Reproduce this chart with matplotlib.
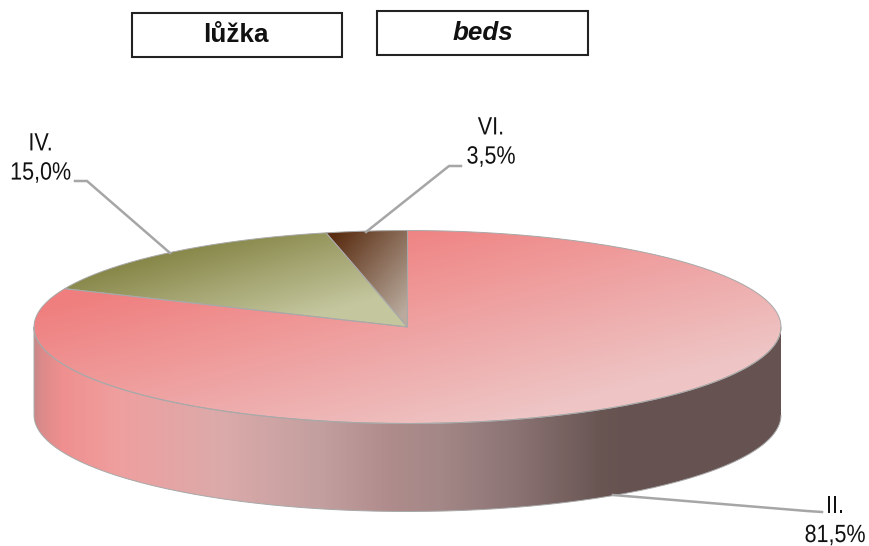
"""
3D pie chart, beds by category
"""

import numpy as np
import matplotlib.pyplot as plt
import matplotlib.patheffects as pe
from matplotlib.patches import PathPatch, Rectangle
from matplotlib.path import Path
from matplotlib.colors import to_rgb
from matplotlib.transforms import Affine2D

#> Data
categories = ['II.', 'IV.', 'VI.']
shares = [81.5, 15.0, 3.5]
share_labels = ['81,5%', '15,0%', '3,5%']
title_cz = 'lůžka'
title_en = 'beds'

#> Geometry of the pie, in pixels
cx, cy, rx, ry, depth = 407.5, 327., 373.5, 96.5, 88.

#> Gradients: colour stops for each slice
top_stops = [
    ([.2, .8], ['#f07e7e', '#eec4c4']),
    ([.22, .8], ['#838343', '#c4c69e']),
    ([.08, .9], ['#5a2d12', '#b9aa9d']),
]
side_x = [34, 42, 62, 120, 220, 320, 387, 440, 510, 600, 625, 781]
side_c = ['#c98888', '#dc8a8a', '#ef8f8f', '#ef9f9f', '#dcaaaa', '#c39f9f', '#b08c8c',
          '#a48787', '#8d7575', '#695653', '#665351', '#665351']


class Squeeze(pe.AbstractPathEffect):
    #> no narrow font installed: squeeze each text line about its own centre
    def __init__(self, sx):
        super().__init__()
        self.sx = sx

    def draw_path(self, renderer, gc, tpath, affine, rgbFace=None):
        box = tpath.get_extents(affine)
        mid = (box.x0 + box.x1) / 2.
        squeezed = affine + Affine2D().translate(-mid, 0).scale(self.sx, 1).translate(mid, 0)
        renderer.draw_path(gc, tpath, squeezed, rgbFace)


def ellipse_xy(theta):
    #> theta measured clockwise from 12 o'clock, degrees
    t = np.radians(theta)
    return cx + rx * np.sin(t), cy - ry * np.cos(t)


def clipped_gradient(ax, path, rgb, edge='#a8a8a8'):
    patch = PathPatch(path, fc='none', ec='none')
    ax.add_patch(patch)
    im = ax.imshow(rgb, extent=ext, origin='upper', interpolation='bilinear', zorder=2)
    im.set_clip_path(patch)
    ax.add_patch(PathPatch(path, fc='none', ec=edge, lw=.7, zorder=3))


fig = plt.figure(figsize=(8.69, 5.46), dpi=100)
ax = fig.add_axes([0, 0, 1, 1])

W, H = 869, 546
X, Y = np.meshgrid(np.arange(W) + .5, np.arange(H) + .5)
ext = (0, W, H, 0)

#> Side wall
th = np.linspace(90, 270, 200)
xs, ys = ellipse_xy(th)
side_xy = np.vstack([np.c_[xs, ys], np.c_[xs[::-1], ys[::-1] + depth]])
side_rgb = np.array([to_rgb(c) for c in side_c])
side_img = np.dstack([np.interp(X, side_x, side_rgb[:, i]) for i in range(3)])
clipped_gradient(ax, Path(side_xy), side_img)

#> Top slices, clockwise from 12 o'clock
edges = np.cumsum([0.] + shares) / sum(shares) * 360.
for i in range(len(shares)):
    th = np.linspace(edges[i], edges[i + 1], 300)
    xs, ys = ellipse_xy(th)
    xy = np.vstack([[cx, cy], np.c_[xs, ys], [cx, cy]])
    u = (X - xy[:, 0].min()) / (xy[:, 0].max() - xy[:, 0].min())
    v = (Y - xy[:, 1].min()) / (xy[:, 1].max() - xy[:, 1].min())
    g = (u + v) / 2.
    pos, cols = top_stops[i]
    cols = np.array([to_rgb(c) for c in cols])
    img = np.dstack([np.interp(g, pos, cols[:, k]) for k in range(3)])
    clipped_gradient(ax, Path(xy), img)

#> Leader lines
leaders = [
    ([822, 807, 613], [512, 511, 495]),
    ([75, 87, 170], [181, 181, 253]),
    ([461, 449, 366], [166, 166, 232]),
]
for lx, ly in leaders:
    ax.plot(lx, ly, color='#a6a6a6', lw=1.8, zorder=4, solid_joinstyle='miter')

#> Labels
label_pos = [(835, 520.5), (40.5, 158), (491, 142)]
for name, val, (px, py) in zip(categories, share_labels, label_pos):
    ax.text(px, py, name + '\n' + val, ha='center', va='center', fontsize=18,
            family='Liberation Sans', color='#111111', linespacing=1.27, zorder=5,
            path_effects=[Squeeze(.86)])

#> Title boxes
ax.add_patch(Rectangle((131.5, 12.5), 210, 44.5, fc='white', ec='#222222', lw=1.5))
ax.add_patch(Rectangle((376.5, 10.5), 211, 44.5, fc='white', ec='#222222', lw=1.5))
ax.text(236, 35, title_cz, ha='center', va='center', fontsize=18.7, fontweight='bold',
        family='Liberation Sans', color='#111111')
ax.text(482.5, 33, title_en, ha='center', va='center', fontsize=18.7, fontweight='bold',
        style='italic', family='Liberation Sans', color='#111111')

ax.set_xlim(0, W)
ax.set_ylim(H, 0)
ax.set_aspect('auto')
ax.axis('off')

fig.savefig('out.png', dpi=100)
